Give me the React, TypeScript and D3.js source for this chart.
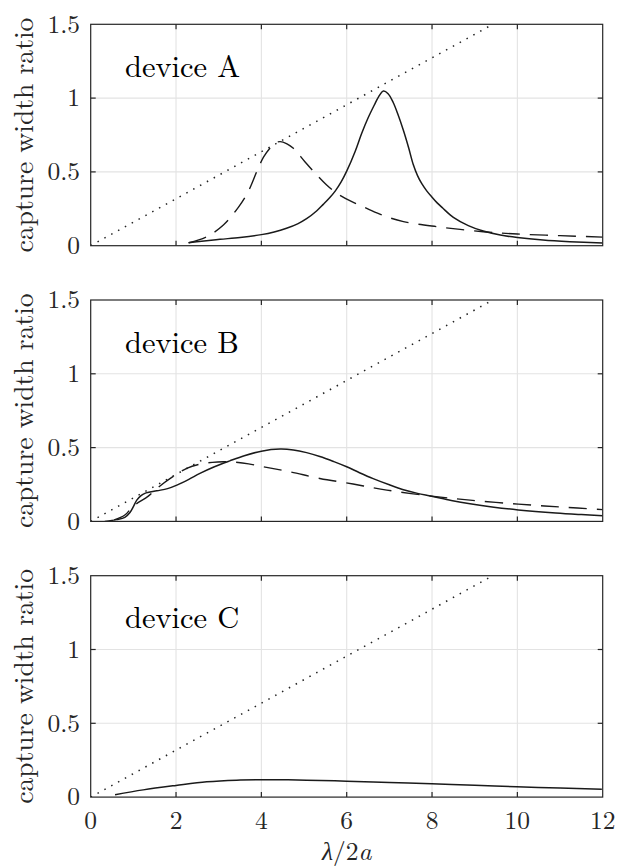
import React from "react";
import * as d3 from "d3";

// --- data ---
const xTicks = [0, 2, 4, 6, 8, 10, 12];
const yTicks = [0, 0.5, 1, 1.5];
const yTickLabels = ["0", "0.5", "1", "1.5"];
const panelNames = ["device A", "device B", "device C"];

// theoretical limit line (end points)
const limitX = [0, 9.4248];
const limitY = [0, 1.5];

const aSolidX = [2.29, 2.6, 3.03, 3.5, 4.0, 4.3, 4.59, 4.85, 5.06, 5.3, 5.45, 5.6, 5.73, 5.87, 6.0, 6.2, 6.35, 6.5, 6.65, 6.75, 6.86, 6.97, 7.09, 7.2, 7.33, 7.45, 7.56, 7.66, 7.76, 7.88, 7.99, 8.12, 8.25, 8.5, 8.85, 9.2, 9.6, 10.0, 10.6, 11.23, 12.0];
const aSolidY = [0.02, 0.03, 0.043, 0.056, 0.075, 0.093, 0.118, 0.148, 0.183, 0.237, 0.28, 0.325, 0.37, 0.432, 0.505, 0.64, 0.76, 0.865, 0.955, 1.01, 1.048, 1.03, 0.97, 0.89, 0.78, 0.665, 0.55, 0.475, 0.42, 0.37, 0.332, 0.29, 0.255, 0.192, 0.136, 0.099, 0.072, 0.055, 0.038, 0.027, 0.018];
const aDashX = [2.3, 2.72, 3.11, 3.46, 3.69, 3.89, 4.05, 4.2, 4.32, 4.44, 4.6, 4.75, 5.02, 5.3, 5.53, 5.77, 6.12, 6.47, 6.9, 7.33, 8.11, 9.2, 10.0, 11.0, 12.0];
const aDashY = [0.02, 0.061, 0.14, 0.26, 0.366, 0.5, 0.6, 0.66, 0.695, 0.705, 0.69, 0.66, 0.569, 0.479, 0.411, 0.355, 0.298, 0.253, 0.2, 0.163, 0.129, 0.095, 0.079, 0.068, 0.058];

const bSolidX = [0.33, 0.61, 0.8, 0.92, 1.0, 1.08, 1.18, 1.27, 1.55, 1.8, 2.02, 2.3, 2.56, 2.9, 3.26, 3.6, 4.0, 4.44, 4.75, 5.06, 5.37, 5.7, 6.0, 6.3, 6.62, 7.0, 7.33, 7.66, 7.99, 8.45, 8.89, 9.45, 10.02, 10.9, 11.5, 12.0];
const bSolidY = [0.0, 0.012, 0.027, 0.06, 0.1, 0.144, 0.175, 0.19, 0.207, 0.222, 0.246, 0.285, 0.325, 0.37, 0.41, 0.445, 0.476, 0.49, 0.484, 0.466, 0.44, 0.405, 0.37, 0.33, 0.29, 0.248, 0.215, 0.19, 0.171, 0.142, 0.119, 0.096, 0.078, 0.057, 0.046, 0.038];
const bDashX = [0.55, 0.8, 1.0, 1.35, 1.58, 1.9, 2.25, 2.56, 2.85, 3.11, 3.34, 3.7, 4.05, 4.67, 5.37, 6.15, 6.94, 7.99, 8.89, 10.02, 11.0, 12.0];
const bDashY = [0.01, 0.043, 0.104, 0.171, 0.23, 0.298, 0.359, 0.388, 0.4, 0.404, 0.402, 0.39, 0.37, 0.336, 0.291, 0.253, 0.212, 0.171, 0.144, 0.117, 0.098, 0.08];

const cSolidX = [0.57, 1.23, 2.0, 2.72, 3.42, 4.0, 4.5, 5.06, 6.0, 7.0, 7.99, 9.0, 9.98, 11.0, 11.98];
const cSolidY = [0.016, 0.049, 0.079, 0.104, 0.115, 0.117, 0.117, 0.115, 0.108, 0.099, 0.09, 0.08, 0.07, 0.062, 0.054];

const zip = (xs: number[], ys: number[]) => xs.map((x, i) => [x, ys[i]] as [number, number]);

const panels = [
  { solid: zip(aSolidX, aSolidY), dash: zip(aDashX, aDashY) },
  { solid: zip(bSolidX, bSolidY), dash: zip(bDashX, bDashY) },
  { solid: zip(cSolidX, cSolidY), dash: null as [number, number][] | null },
];

const W = 617;
const H = 868;
const left = 90.7;
const right = 602.7;
const tops = [24.3, 300, 575.7];
const ph = 221.4;
const font = "Latin Modern Roman";
const axisColor = "#262626";

export default function App() {
  const x = d3.scaleLinear().domain([0, 12]).range([left, right]);

  return (
    <svg width={W} height={H} style={{ position: "absolute", left: 0, top: 0, background: "#fff" }}>
      {panels.map((p, pi) => {
        const top = tops[pi];
        const y = d3.scaleLinear().domain([0, 1.5]).range([top + ph, top]);
        const line = d3
          .line<[number, number]>()
          .x((d) => x(d[0]))
          .y((d) => y(d[1]))
          .curve(d3.curveCatmullRom.alpha(0.5));
        const limit = zip(limitX, limitY);
        return (
          <g key={pi}>
            <defs>
              <clipPath id={`clip${pi}`}>
                <rect x={left} y={top} width={right - left} height={ph} />
              </clipPath>
            </defs>
            {/* grid */}
            {xTicks.slice(1, -1).map((t) => (
              <line key={"gx" + t} x1={x(t)} x2={x(t)} y1={top} y2={top + ph} stroke="#e3e3e3" strokeWidth={1.1} />
            ))}
            {yTicks.slice(1, -1).map((t) => (
              <line key={"gy" + t} x1={left} x2={right} y1={y(t)} y2={y(t)} stroke="#e3e3e3" strokeWidth={1.1} />
            ))}
            {/* curves */}
            <g clipPath={`url(#clip${pi})`}>
              <path d={line(limit) || ""} fill="none" stroke="#222" strokeWidth={1.5} strokeDasharray="1.5 6.3" />
              {p.dash && (
                <path d={line(p.dash) || ""} fill="none" stroke="#1a1a1a" strokeWidth={1.4} strokeDasharray="18 10" />
              )}
              <path d={line(p.solid) || ""} fill="none" stroke="#1a1a1a" strokeWidth={1.5} />
            </g>
            {/* box and ticks */}
            <rect x={left} y={top} width={right - left} height={ph} fill="none" stroke={axisColor} strokeWidth={1.2} />
            {xTicks.slice(1, -1).map((t) => (
              <g key={"tx" + t} stroke={axisColor} strokeWidth={1.2}>
                <line x1={x(t)} x2={x(t)} y1={top + ph} y2={top + ph - 5} />
                <line x1={x(t)} x2={x(t)} y1={top} y2={top + 5} />
              </g>
            ))}
            {yTicks.slice(1, -1).map((t) => (
              <g key={"ty" + t} stroke={axisColor} strokeWidth={1.2}>
                <line x1={left} x2={left + 5} y1={y(t)} y2={y(t)} />
                <line x1={right} x2={right - 5} y1={y(t)} y2={y(t)} />
              </g>
            ))}
            {yTicks.map((t, i) => (
              <text key={"ly" + t} x={80} y={y(t) + 8.2} textAnchor="end" style={{ fontFamily: font, fontSize: 25.5 }} fill={axisColor}>
                {yTickLabels[i]}
              </text>
            ))}
            <text
              transform={`translate(33,${top + ph / 2}) rotate(-90)`}
              textAnchor="middle"
              style={{ fontFamily: font, fontSize: 27.6 }}
              fill={axisColor}
            >
              capture width ratio
            </text>
            <text x={125} y={top + 52.5} style={{ fontFamily: font, fontSize: 30.5 }} fill="#000">
              {panelNames[pi]}
            </text>
            {pi === 2 &&
              xTicks.map((t) => (
                <text key={"lx" + t} x={x(t)} y={828.5} textAnchor="middle" style={{ fontFamily: font, fontSize: 25.5 }} fill={axisColor}>
                  {t}
                </text>
              ))}
          </g>
        );
      })}
      <text x={(left + right) / 2} y={860} textAnchor="middle" style={{ fontFamily: font, fontSize: 25.5 }} fill={axisColor}>
        <tspan fontStyle="italic">λ</tspan>
        <tspan>/2</tspan>
        <tspan fontStyle="italic">a</tspan>
      </text>
    </svg>
  );
}
